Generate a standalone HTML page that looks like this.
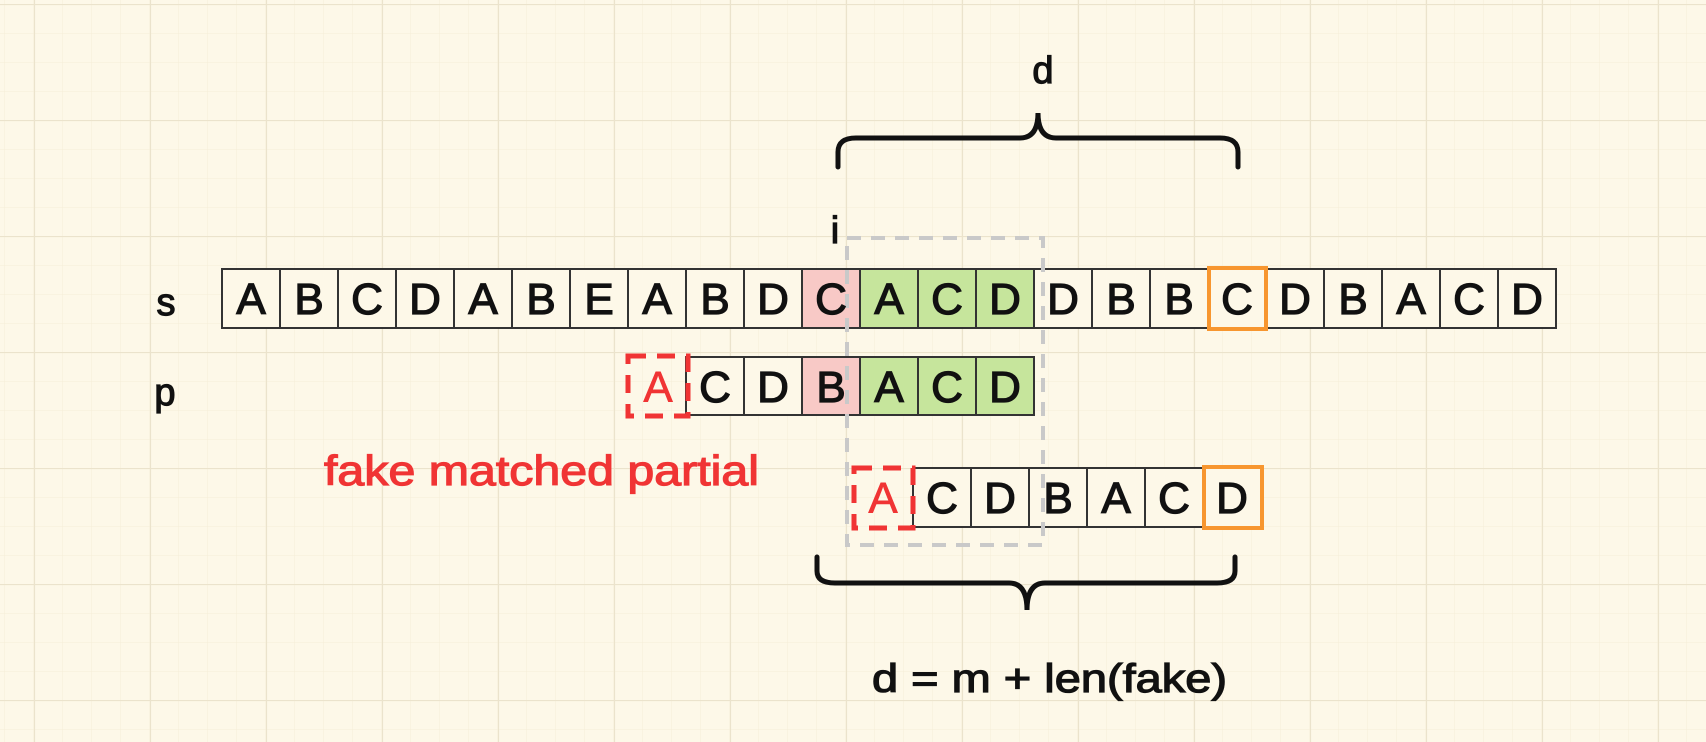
<!DOCTYPE html>
<html><head><meta charset="utf-8"><style>
html,body{margin:0;padding:0;background:#fdf8e8;}
svg{display:block;}
text{font-family:"Liberation Sans",sans-serif;}
</style></head><body>
<svg width="1706" height="742" viewBox="0 0 1706 742" xmlns="http://www.w3.org/2000/svg">
<defs>
<pattern id="minor" x="4" y="4" width="29" height="29" patternUnits="userSpaceOnUse">
<path d="M0 0H29M0 0V29" stroke="#f5eed8" stroke-width="1" fill="none"/>
</pattern>
<pattern id="major" x="34" y="4" width="116" height="116" patternUnits="userSpaceOnUse">
<path d="M0 0.5H116M0.5 0V116" stroke="#ebe3cc" stroke-width="1.2" fill="none"/>
</pattern>
</defs>
<rect width="1706" height="742" fill="#fdf8e8"/>
<rect width="1706" height="742" fill="url(#minor)"/>
<rect width="1706" height="742" fill="url(#major)"/>

<!-- top brace -->
<path d="M838 167 V152 Q838 138 856 138 H1020 Q1038 138 1038 113 Q1038 138 1056 138 H1220 Q1238 138 1238 152 V167" fill="none" stroke="#111" stroke-width="5" stroke-linecap="round"/>
<g stroke="#111" stroke-width="1.2" fill="#111">
<text x="1043" y="83" font-size="38" text-anchor="middle">d</text>
<text x="835" y="243" font-size="38" text-anchor="middle">i</text>
<text x="166" y="315" font-size="38" text-anchor="middle">s</text>
<text x="165" y="405" font-size="38" text-anchor="middle">p</text>
</g>

<g stroke="#333" stroke-width="2">
<rect x="222" y="269" width="58" height="59" fill="#fdf8e8"/>
<rect x="280" y="269" width="58" height="59" fill="#fdf8e8"/>
<rect x="338" y="269" width="58" height="59" fill="#fdf8e8"/>
<rect x="396" y="269" width="58" height="59" fill="#fdf8e8"/>
<rect x="454" y="269" width="58" height="59" fill="#fdf8e8"/>
<rect x="512" y="269" width="58" height="59" fill="#fdf8e8"/>
<rect x="570" y="269" width="58" height="59" fill="#fdf8e8"/>
<rect x="628" y="269" width="58" height="59" fill="#fdf8e8"/>
<rect x="686" y="269" width="58" height="59" fill="#fdf8e8"/>
<rect x="744" y="269" width="58" height="59" fill="#fdf8e8"/>
<rect x="802" y="269" width="58" height="59" fill="#f8c9c6"/>
<rect x="860" y="269" width="58" height="59" fill="#c6e59c"/>
<rect x="918" y="269" width="58" height="59" fill="#c6e59c"/>
<rect x="976" y="269" width="58" height="59" fill="#c6e59c"/>
<rect x="1034" y="269" width="58" height="59" fill="#fdf8e8"/>
<rect x="1092" y="269" width="58" height="59" fill="#fdf8e8"/>
<rect x="1150" y="269" width="58" height="59" fill="#fdf8e8"/>
<rect x="1208" y="269" width="58" height="59" fill="#fdf8e8"/>
<rect x="1266" y="269" width="58" height="59" fill="#fdf8e8"/>
<rect x="1324" y="269" width="58" height="59" fill="#fdf8e8"/>
<rect x="1382" y="269" width="58" height="59" fill="#fdf8e8"/>
<rect x="1440" y="269" width="58" height="59" fill="#fdf8e8"/>
<rect x="1498" y="269" width="58" height="59" fill="#fdf8e8"/>

<rect x="686" y="357" width="58" height="58" fill="#fdf8e8"/>
<rect x="744" y="357" width="58" height="58" fill="#fdf8e8"/>
<rect x="802" y="357" width="58" height="58" fill="#f8c9c6"/>
<rect x="860" y="357" width="58" height="58" fill="#c6e59c"/>
<rect x="918" y="357" width="58" height="58" fill="#c6e59c"/>
<rect x="976" y="357" width="58" height="58" fill="#c6e59c"/>

<rect x="913" y="468" width="58" height="59" fill="#fdf8e8"/>
<rect x="971" y="468" width="58" height="59" fill="#fdf8e8"/>
<rect x="1029" y="468" width="58" height="59" fill="#fdf8e8"/>
<rect x="1087" y="468" width="58" height="59" fill="#fdf8e8"/>
<rect x="1145" y="468" width="58" height="59" fill="#fdf8e8"/>
<rect x="1203" y="468" width="58" height="59" fill="#fdf8e8"/>
</g>

<rect x="1209" y="268" width="57" height="61" fill="none" stroke="#f7962f" stroke-width="4"/>
<rect x="1204" y="467" width="58" height="61" fill="none" stroke="#f7962f" stroke-width="4"/>

<rect x="847" y="238" width="196" height="307" fill="none" stroke="#c9c9c9" stroke-width="4" stroke-dasharray="14 10"/>

<rect x="628" y="356" width="60" height="60" fill="none" stroke="#f03434" stroke-width="5" stroke-dasharray="18 11"/>
<rect x="854" y="468" width="59" height="60" fill="none" stroke="#f03434" stroke-width="5" stroke-dasharray="18 11"/>

<g font-size="44" text-anchor="middle" fill="#111" stroke="#111" stroke-width="1.3">
<text x="251" y="314">A</text><text x="309" y="314">B</text><text x="367" y="314">C</text><text x="425" y="314">D</text>
<text x="483" y="314">A</text><text x="541" y="314">B</text><text x="599" y="314">E</text><text x="657" y="314">A</text>
<text x="715" y="314">B</text><text x="773" y="314">D</text><text x="831" y="314">C</text><text x="889" y="314">A</text>
<text x="947" y="314">C</text><text x="1005" y="314">D</text><text x="1063" y="314">D</text><text x="1121" y="314">B</text>
<text x="1179" y="314">B</text><text x="1237" y="314">C</text><text x="1295" y="314">D</text><text x="1353" y="314">B</text>
<text x="1411" y="314">A</text><text x="1469" y="314">C</text><text x="1527" y="314">D</text>

<text x="715" y="402">C</text><text x="773" y="402">D</text><text x="831" y="402">B</text>
<text x="889" y="402">A</text><text x="947" y="402">C</text><text x="1005" y="402">D</text>

<text x="942" y="513">C</text><text x="1000" y="513">D</text><text x="1058" y="513">B</text>
<text x="1116" y="513">A</text><text x="1174" y="513">C</text><text x="1232" y="513">D</text>
</g>
<g font-size="44" text-anchor="middle" fill="#f03434" stroke="#f03434" stroke-width="0.6">
<text x="658" y="402">A</text>
<text x="883" y="513">A</text>
</g>

<text x="324" y="485" font-size="42" fill="#f03434" stroke="#f03434" stroke-width="1.2" textLength="435" lengthAdjust="spacingAndGlyphs">fake matched partial</text>

<path d="M817 557 V571 Q817 583 835 583 H1009 Q1027 583 1027 610 Q1027 583 1045 583 H1217 Q1235 583 1235 571 V557" fill="none" stroke="#111" stroke-width="5" stroke-linecap="round"/>
<text x="872" y="692" font-size="40" fill="#111" stroke="#111" stroke-width="1.2" textLength="355" lengthAdjust="spacingAndGlyphs">d = m + len(fake)</text>
</svg>
</body></html>
